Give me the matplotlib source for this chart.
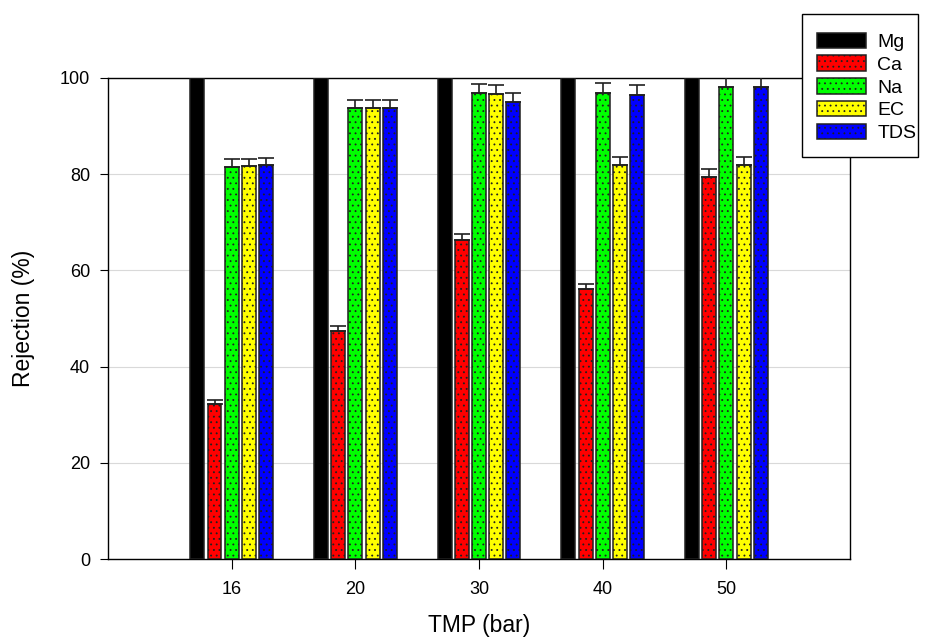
import numpy as np
import matplotlib
matplotlib.use("Agg")
import matplotlib.pyplot as plt
from matplotlib.patches import Rectangle

plt.rcParams['font.family'] = ['Liberation Sans', 'DejaVu Sans']
plt.rcParams['hatch.linewidth'] = 0.6

tmp = ['16', '20', '30', '40', '50']
series = ['Mg', 'Ca', 'Na', 'EC', 'TDS']
colors = ['#000000', '#ff0000', '#00ff00', '#ffff00', '#0000ff']

mg = [100, 100, 100, 100, 100]
ca = [32.2, 47.5, 66.3, 56.2, 79.5]
na = [81.4, 93.8, 96.8, 96.9, 98.1]
ec = [81.6, 93.8, 96.7, 82.0, 81.9]
tds = [81.9, 93.8, 95.0, 96.5, 98.2]

mg_err = [0, 0, 0, 0, 0]
ca_err = [0.8, 1.0, 1.3, 1.0, 1.5]
na_err = [1.7, 1.7, 1.9, 2.0, 2.0]
ec_err = [1.6, 1.7, 1.8, 1.6, 1.6]
tds_err = [1.5, 1.7, 1.9, 2.0, 2.0]

values = [mg, ca, na, ec, tds]
errors = [mg_err, ca_err, na_err, ec_err, tds_err]

fig = plt.figure(figsize=(9.28, 6.37), dpi=100)
ax = fig.add_axes([0.1164, 0.1224, 0.7996, 0.7552])

x = np.arange(len(tmp))
pitch = 0.139
width = 0.113
for i, (name, vals, errs, c) in enumerate(zip(series, values, errors, colors)):
    pos = x + (i - 2) * pitch
    hatch = None if i == 0 else '...'
    ax.bar(pos, vals, width, color=c, edgecolor='#202020', linewidth=1.1,
           hatch=hatch, label=name, zorder=3)
    if i > 0:
        ax.errorbar(pos, vals, yerr=[np.zeros(len(vals)), errs], fmt='none',
                    ecolor='#202020', elinewidth=1.2, capsize=6, capthick=1.2,
                    zorder=4)

ax.set_xlim(-1, 5)
ax.set_ylim(0, 100)
ax.set_xticks(x)
ax.set_xticklabels(tmp, fontsize=13)
ax.set_yticks([0, 20, 40, 60, 80, 100])
ax.tick_params(axis='y', labelsize=13, direction='out', length=6, pad=7)
ax.tick_params(axis='x', direction='out', length=7, pad=9)
ax.yaxis.grid(True, color='#d9d9d9', linewidth=0.8, zorder=0)
ax.set_axisbelow(True)
for s in ax.spines.values():
    s.set_linewidth(1.0)

ax.set_xlabel('TMP (bar)', fontsize=16.5, labelpad=11)
ax.set_ylabel('Rejection (%)', fontsize=16.5, labelpad=18)

# legend box (white, covers the axes frame like the original)
box = Rectangle((802 / 928, 1 - 157 / 637), 116 / 928, 143 / 637,
                transform=fig.transFigure, facecolor='white',
                edgecolor='black', linewidth=1.0, zorder=4)
fig.add_artist(box)

leg = fig.legend(loc='upper left', bbox_to_anchor=(817 / 928, 1 - 32.5 / 637),
                 fontsize=14, frameon=False,
                 handlelength=2.5, handleheight=0.85, labelspacing=0.22,
                 borderpad=0, handletextpad=0.6, borderaxespad=0)
leg.set_zorder(5)

fig.savefig('out.png', dpi=100)
